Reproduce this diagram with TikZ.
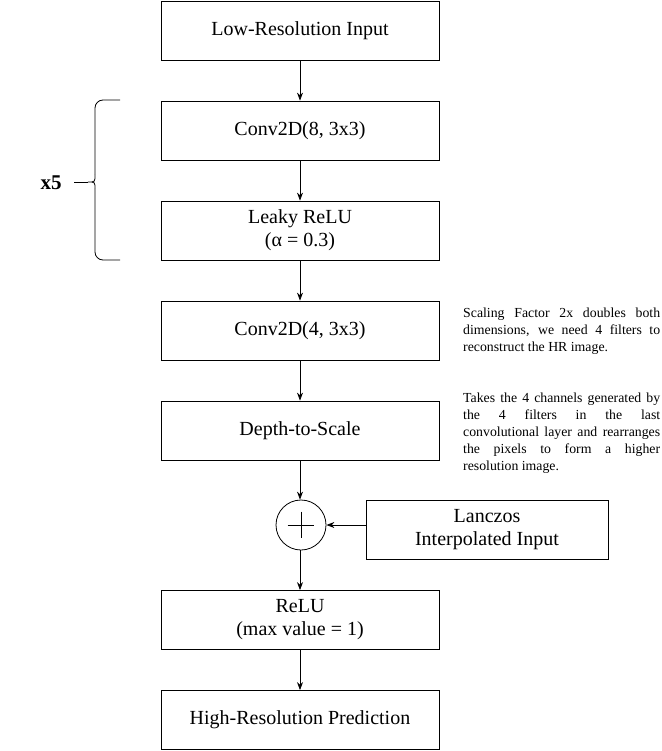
\documentclass[tikz,border=0pt]{standalone}
\usepackage{fontspec}
\setmainfont{Liberation Serif}
\usetikzlibrary{arrows.meta}
\newcommand{\nohy}{\hyphenpenalty=10000 \exhyphenpenalty=10000 \tolerance=10000 }
\begin{document}
\begin{tikzpicture}[x=1pt,y=-1pt,
  blk/.style={draw,line width=0.8pt,minimum width=278pt,minimum height=59pt,align=center,font=\fontsize{20}{23}\selectfont,inner sep=0pt},
  arr/.style={-{Stealth[length=8pt,width=6pt]},line width=0.8pt},
  note/.style={align=justify,text width=197pt,font=\fontsize{13.8}{17}\selectfont\nohy,inner sep=0pt,anchor=north west}]
\useasboundingbox (0,0) rectangle (661,751);
\node[blk] (lr) at (300,30.5) {Low-Resolution Input};
\node[blk] (c1) at (300,130.5) {Conv2D(8, 3x3)};
\node[blk] (lk) at (300,230.5) {Leaky ReLU\\(α = 0.3)};
\node[blk] (c2) at (300,330.5) {Conv2D(4, 3x3)};
\node[blk] (ds) at (300,430.5) {Depth-to-Scale};
\node[draw,circle,line width=0.8pt,minimum size=50pt,inner sep=0pt] (pl) at (301,525) {};
\draw[line width=0.8pt] (pl.north) ++(0,12) -- ++(0,26) (pl.west) ++(12,0) -- ++(26,0);
\node[blk,minimum width=242pt] (lz) at (487,530) {Lanczos\\Interpolated Input};
\node[blk] (re) at (300,620) {ReLU\\(max value = 1)};
\node[blk] (hr) at (300,720) {High-Resolution Prediction};
\draw[arr] (lr) -- (c1);
\draw[arr] (c1) -- (lk);
\draw[arr] (lk) -- (c2);
\draw[arr] (c2) -- (ds);
\draw[arr] (ds.south) -- (ds.south |- pl.north);
\draw[arr] (lz.west |- pl.east) -- (pl.east);
\draw[arr] (re.north |- pl.south) -- (re.north);
\draw[arr] (re) -- (hr);
\coordinate (bt) at (120,100);
\coordinate (bb) at (120,260);
\draw[line width=0.8pt,rounded corners=8pt] (bt) -- (95,100) -- (95,175);
\draw[line width=0.8pt,rounded corners=8pt] (bb) -- (95,260) -- (95,189);
\draw[line width=0.8pt] (95,175) .. controls (95,182) .. (88,182) .. controls (95,182) .. (95,189);
\draw[line width=0.8pt] (88,182) -- (74,182);
\node[font=\fontsize{21}{24}\selectfont\bfseries] (x5) at (51,183) {x5};
\node[note] (n1) at (463,308) {Scaling Factor 2x doubles both\linebreak dimensions, we need 4 filters to\linebreak reconstruct the HR image.};
\node[note] (n2) at (463,393) {Takes the 4 channels generated by\linebreak the 4 filters in the last\linebreak convolutional layer and rearranges\linebreak the pixels to form a higher\linebreak resolution image.};
\end{tikzpicture}
\end{document}
